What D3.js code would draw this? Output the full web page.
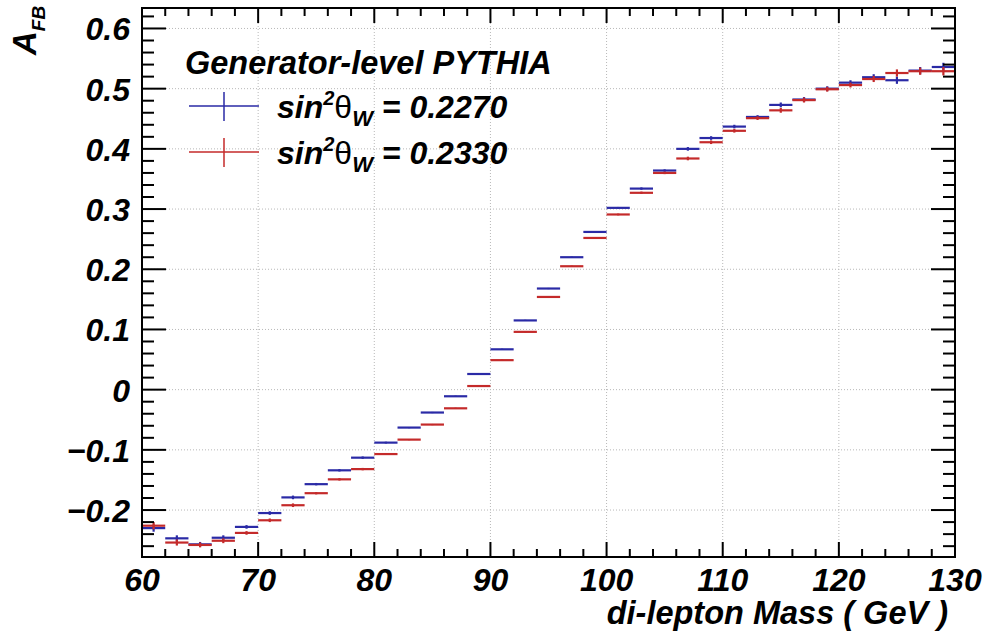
<!DOCTYPE html>
<html>
<head>
<meta charset="utf-8">
<script src="https://cdn.jsdelivr.net/npm/d3@7"></script>
<style>
  body { margin: 0; background: #fff; }
  svg text { font-family: "Liberation Sans", Arial, sans-serif; font-weight: bold; font-style: italic; }
</style>
</head>
<body>
<svg id="chart" width="990" height="642"></svg>
<script>
// bin low edges (GeV), 2 GeV wide
const binLow = [60, 62, 64, 66, 68, 70, 72, 74, 76, 78, 80, 82, 84, 86, 88, 90, 92, 94,
  96, 98, 100, 102, 104, 106, 108, 110, 112, 114, 116, 118, 120, 122, 124, 126, 128];
const binWidth = 2;

// A_FB, sin2thetaW = 0.2270
const afbBlue = [-0.230, -0.247, -0.257, -0.246, -0.228, -0.205, -0.179, -0.157, -0.134, -0.113,
  -0.088, -0.063, -0.038, -0.011, 0.026, 0.067, 0.115, 0.168, 0.220, 0.262,
  0.302, 0.334, 0.364, 0.400, 0.418, 0.437, 0.453, 0.473, 0.482, 0.500,
  0.510, 0.519, 0.514, 0.530, 0.536];
// A_FB, sin2thetaW = 0.2330
const afbRed = [-0.226, -0.254, -0.258, -0.251, -0.238, -0.217, -0.192, -0.172, -0.149, -0.132,
  -0.107, -0.083, -0.058, -0.031, 0.006, 0.049, 0.096, 0.154, 0.205, 0.252,
  0.291, 0.327, 0.360, 0.384, 0.411, 0.430, 0.451, 0.464, 0.481, 0.499,
  0.506, 0.516, 0.526, 0.529, 0.529];
// statistical errors (approx.)
const afbErr = [0.006, 0.005, 0.004, 0.004, 0.003, 0.003, 0.003, 0.002, 0.002, 0.002,
  0.0015, 0.001, 0.001, 0.001, 0.001, 0.001, 0.001, 0.001, 0.001, 0.001,
  0.0015, 0.002, 0.002, 0.003, 0.003, 0.003, 0.003, 0.004, 0.004, 0.004,
  0.004, 0.005, 0.006, 0.006, 0.007];

const xTicks = [60, 70, 80, 90, 100, 110, 120, 130];
const yTicks = [-0.2, -0.1, 0, 0.1, 0.2, 0.3, 0.4, 0.5, 0.6];

const series = [
  { name: "0.2270", color: "#2a2aa6", values: afbBlue },
  { name: "0.2330", color: "#c42a2a", values: afbRed }
];

const padL = 142, padR = 955, padT = 8, padB = 557;
const svg = d3.select("#chart");

const x = d3.scaleLinear().domain([60, 130]).range([padL, padR]);
const y = d3.scaleLinear().domain([-0.278, 0.634]).range([padB, padT]);

// grid
const grid = svg.append("g").attr("stroke", "#b8b8b8").attr("stroke-width", 1).attr("stroke-dasharray", "1,2");
grid.selectAll("line.gx").data(xTicks.slice(1, -1)).join("line")
  .attr("x1", d => x(d)).attr("x2", d => x(d)).attr("y1", padT).attr("y2", padB);
grid.selectAll("line.gy").data(yTicks).join("line")
  .attr("y1", d => y(d)).attr("y2", d => y(d)).attr("x1", padL).attr("x2", padR);

// histograms
series.forEach(s => {
  const g = svg.append("g").attr("stroke", s.color).attr("stroke-width", 2.2);
  g.selectAll("line.h").data(binLow).join("line")
    .attr("x1", d => x(d)).attr("x2", d => x(d + binWidth))
    .attr("y1", (d, i) => y(s.values[i])).attr("y2", (d, i) => y(s.values[i]));
  g.selectAll("line.e").data(binLow).join("line")
    .attr("x1", d => x(d + binWidth / 2)).attr("x2", d => x(d + binWidth / 2))
    .attr("y1", (d, i) => y(s.values[i] - afbErr[i])).attr("y2", (d, i) => y(s.values[i] + afbErr[i]));
});

// ticks, ROOT style (inside, on all four sides)
const ax = svg.append("g").attr("stroke", "#000").attr("stroke-width", 2);
const xMinor = d3.range(60, 130.01, 2);
const yMinor = d3.range(-0.26, 0.6301, 0.02);
ax.selectAll("line.xb").data(xMinor).join("line")
  .attr("x1", d => x(d)).attr("x2", d => x(d))
  .attr("y1", padB).attr("y2", d => padB - (Math.round(d) % 10 === 0 ? 15 : 8));
ax.selectAll("line.xt").data(xMinor).join("line")
  .attr("x1", d => x(d)).attr("x2", d => x(d))
  .attr("y1", padT).attr("y2", d => padT + (Math.round(d) % 10 === 0 ? 15 : 8));
const isMajorY = d => Math.abs(Math.round(d * 10) - d * 10) < 1e-6;
ax.selectAll("line.yl").data(yMinor).join("line")
  .attr("y1", d => y(d)).attr("y2", d => y(d))
  .attr("x1", padL).attr("x2", d => padL + (isMajorY(d) ? 24 : 12));
ax.selectAll("line.yr").data(yMinor).join("line")
  .attr("y1", d => y(d)).attr("y2", d => y(d))
  .attr("x1", padR).attr("x2", d => padR - (isMajorY(d) ? 24 : 12));

svg.append("rect").attr("x", padL).attr("y", padT).attr("width", padR - padL).attr("height", padB - padT)
  .attr("fill", "none").attr("stroke", "#000").attr("stroke-width", 2);

// tick labels
const fmtY = d => d === 0 ? "0" : (d < 0 ? "\u2212" : "") + Math.abs(d).toFixed(1);
svg.append("g").selectAll("text").data(yTicks).join("text")
  .attr("x", 130).attr("y", d => y(d) + 12).attr("text-anchor", "end")
  .attr("font-size", 32).text(fmtY);
svg.append("g").selectAll("text").data(xTicks).join("text")
  .attr("x", d => x(d)).attr("y", 591).attr("text-anchor", "middle")
  .attr("font-size", 32).text(d => d);

// axis titles
svg.append("text").attr("x", 948).attr("y", 624).attr("text-anchor", "end")
  .attr("font-size", 32.5).text("di-lepton Mass ( GeV )");
const yt = svg.append("text").attr("transform", "translate(36,55) rotate(-90)").attr("font-size", 33);
yt.append("tspan").text("A");
yt.append("tspan").attr("font-size", 19).attr("dy", 9).text("FB");

// legend
svg.append("text").attr("x", 185).attr("y", 74).attr("font-size", 32.5).text("Generator-level PYTHIA");
const legRows = [106, 152];
series.forEach((s, i) => {
  const ly = legRows[i];
  const g = svg.append("g").attr("stroke", s.color).attr("stroke-width", 1.5);
  g.append("line").attr("x1", 189).attr("x2", 259).attr("y1", ly).attr("y2", ly);
  g.append("line").attr("x1", 224).attr("x2", 224).attr("y1", ly - 14).attr("y2", ly + 15);
  const t = svg.append("text").attr("x", 277).attr("y", ly + 12).attr("font-size", 32);
  t.append("tspan").text("sin");
  t.append("tspan").attr("font-size", 20).attr("dy", -13).text("2");
  t.append("tspan").attr("dy", 13).attr("font-style", "normal").attr("font-weight", "normal").text("\u03b8");
  t.append("tspan").attr("font-size", 22).attr("dy", 8).text("W");
  t.append("tspan").attr("dy", -8).text(" = " + s.name);
});
</script>
</body>
</html>
